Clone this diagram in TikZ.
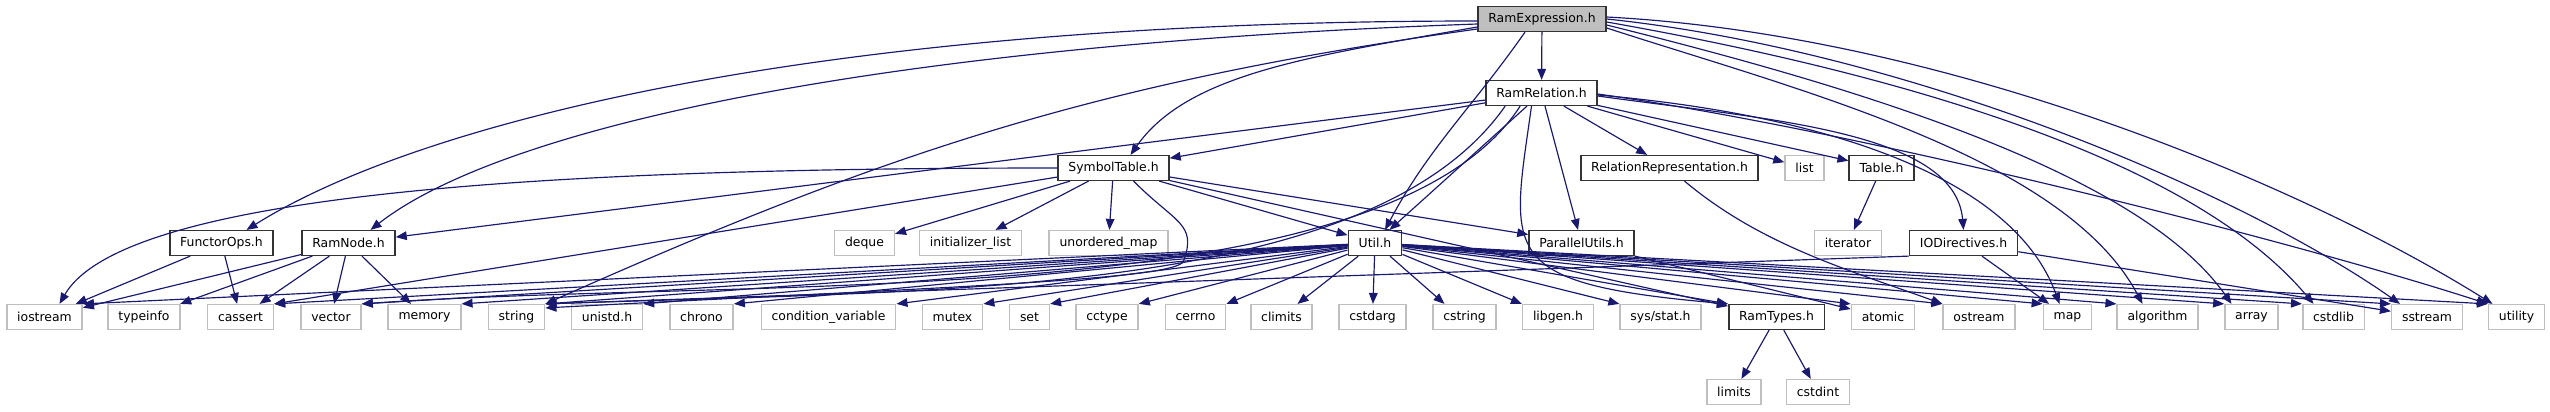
\documentclass[tikz,border=0pt]{standalone}
\usepackage{fontspec}
\setmainfont{DejaVu Sans}
\usepackage{tikz}
\usetikzlibrary{calc,arrows.meta,positioning}

\definecolor{edgeblue}{HTML}{191970}
\definecolor{sysgray}{HTML}{BFBFBF}

\begin{document}
\begin{tikzpicture}[x=0.03cm,y=-0.03cm,
	projbox/.style={rectangle,draw=black!80,fill=white,line width=1.3pt,minimum height=0.74cm,inner xsep=0.31cm,inner ysep=0pt,font=\fontsize{10.6}{12}\selectfont},
	sysbox/.style={projbox,draw=sysgray},
	rootbox/.style={projbox,fill=sysgray},
	dep/.style={draw=edgeblue,line width=1pt,-{Triangle[length=0.33cm,width=0.26cm]}}]
				\useasboundingbox (0,0) rectangle (2550,411);
				% 头文件节点
				\node[rootbox] (expr) at (1542,19) {RamExpression.h};
				\node[projbox] (rel) at (1541.5,93) {RamRelation.h};
				\node[projbox] (sym) at (1113.5,168) {SymbolTable.h};
				\node[projbox] (relrep) at (1669.5,168) {RelationRepresentation.h};
				\node[sysbox] (list) at (1804.5,168) {list};
				\node[projbox] (table) at (1881.5,168) {Table.h};
				\node[projbox] (functor) at (221.5,243) {FunctorOps.h};
				\node[projbox] (ramnode) at (348.5,243) {RamNode.h};
				\node[sysbox] (deque) at (864.5,243) {deque};
				\node[sysbox] (initlist) at (970.5,243) {initializer\_list};
				\node[sysbox] (umap) at (1108.5,243) {unordered\_map};
				\node[projbox] (util) at (1375,243) {Util.h};
				\node[projbox] (par) at (1581.5,243) {ParallelUtils.h};
				\node[sysbox] (iterator) at (1848,243) {iterator};
				\node[projbox] (iodir) at (1963.5,243) {IODirectives.h};
				% 标准库节点
				\node[sysbox] (iostream) at (44.5,317) {iostream};
				\node[sysbox] (typeinfo) at (144,317) {typeinfo};
				\node[sysbox] (cassert) at (240.5,317) {cassert};
				\node[sysbox] (vector) at (331,317) {vector};
				\node[sysbox] (memory) at (424.5,317) {memory};
				\node[sysbox] (string) at (516.5,317) {string};
				\node[sysbox] (unistd) at (607,317) {unistd.h};
				\node[sysbox] (chrono) at (701.5,317) {chrono};
				\node[sysbox] (condvar) at (828.5,317) {condition\_variable};
				\node[sysbox] (mutex) at (952.5,317) {mutex};
				\node[sysbox] (set) at (1029.5,317) {set};
				\node[sysbox] (cctype) at (1107,317) {cctype};
				\node[sysbox] (cerrno) at (1195.5,317) {cerrno};
				\node[sysbox] (climits) at (1281.5,317) {climits};
				\node[sysbox] (cstdarg) at (1372.5,317) {cstdarg};
				\node[sysbox] (cstring) at (1464.5,317) {cstring};
				\node[sysbox] (libgen) at (1558,317) {libgen.h};
				\node[sysbox] (sysstat) at (1660.5,317) {sys/stat.h};
				\node[projbox] (ramtypes) at (1776.5,317) {RamTypes.h};
				\node[sysbox] (atomic) at (1883,317) {atomic};
				\node[sysbox] (ostream) at (1979,317) {ostream};
				\node[sysbox] (map) at (2067.5,317) {map};
				\node[sysbox] (algorithm) at (2157.5,317) {algorithm};
				\node[sysbox] (array) at (2251.5,317) {array};
				\node[sysbox] (cstdlib) at (2333.5,317) {cstdlib};
				\node[sysbox] (sstream) at (2427,317) {sstream};
				\node[sysbox] (utility) at (2516.5,317) {utility};
				\node[sysbox] (limits) at (1734,392) {limits};
				\node[sysbox] (cstdint) at (1818,392) {cstdint};
				\coordinate (hook) at ($(umap.south east)+(15,5)$);
				% RamExpression.h 的依赖
				\draw[dep] (expr) -- (rel);
				\draw[dep] ($(expr.west)+(0,2)$) .. controls +(180:20cm) and +(32:6cm) .. ($(functor.north)+(25,0)$);
				\draw[dep] ($(expr.west)+(0,5)$) .. controls +(182:18cm) and +(38:5cm) .. ($(ramnode.north)+(22,0)$);
				\draw[dep] ($(expr.west)+(0,8)$) .. controls +(190:5cm) and +(55:3cm) .. ($(sym.north)+(17,0)$);
				\draw[dep] ($(expr.west)+(0,10)$) .. controls +(188:11.4cm) and +(24:11.4cm) .. (string.north east);
				\draw[dep] ($(expr.south)+(-17,0)$) .. controls +(235:2.8cm) and +(62:2.8cm) .. ($(util.north)+(10,0)$);
				\draw[dep] ($(expr.east)+(0,-2)$) .. controls +(-3:10cm) and +(148:7cm) .. ($(utility.north)+(-24,0)$);
				\draw[dep] ($(expr.east)+(0,0)$) .. controls +(-6:9cm) and +(145:6cm) .. ($(sstream.north)+(-27,0)$);
				\draw[dep] ($(expr.east)+(0,3)$) .. controls +(-10:8cm) and +(130:6cm) .. ($(cstdlib.north)+(-20,0)$);
				\draw[dep] ($(expr.east)+(0,6)$) .. controls +(-14:7cm) and +(125:5cm) .. ($(array.north)+(-20,0)$);
				\draw[dep] ($(expr.east)+(0,9)$) .. controls +(-18:6cm) and +(118:5cm) .. ($(algorithm.north)+(-15,0)$);
				% RamRelation.h 的依赖
				\draw[dep] (rel) -- (ramnode);
				\draw[dep] (rel) -- (sym);
				\draw[dep] (rel) -- (util);
				\draw[dep] (rel) -- (par);
				\draw[dep] (rel) -- (relrep);
				\draw[dep] (rel) -- (list);
				\draw[dep] (rel) -- (table);
				\draw[dep] ($(rel.east)+(0,3)$) .. controls +(-8:5cm) and +(95:3cm) .. (iodir.north);
				\draw[dep] ($(rel.east)+(0,1)$) .. controls +(-8:8cm) and +(162:6cm) .. (utility.north west);
				\draw[dep] ($(rel.east)+(0,2)$) .. controls +(-5:7cm) and +(110:4cm) .. ($(map.north)+(-8,0)$);
				\draw[dep] ($(rel.south)+(-10,0)$) .. controls +(262:4.5cm) and +(175:7cm) .. (ramtypes.north west);
				\draw[dep] ($(rel.south west)+(20,0)$) .. controls +(235:7cm) and +(2:12cm) .. (string.north east);
				\draw[dep] ($(rel.south west)+(35,0)$) .. controls +(237:7.5cm) and +(4:12cm) .. (vector.north east);
				% SymbolTable.h 的依赖
				\draw[dep] (sym.west) .. controls +(180:14cm) and +(60:4cm) .. ($(iostream.north)+(15,0)$);
				\draw[dep] (sym) -- (cassert.north east);
				\draw[dep] (sym) -- (deque);
				\draw[dep] (sym) -- (initlist);
				\draw[dep] (sym) -- (umap);
				\draw[dep] ($(sym.south)+(20,0)$) .. controls +(-45:1.8cm) and +(70:1.2cm) .. (hook) .. controls +(250:0.6cm) and +(3:12cm) .. ($(string.north east)+(0,4)$);
				\draw[dep] (sym) -- (util);
				\draw[dep] (sym) -- (par);
				\draw[dep] (sym) -- (ramtypes);
				% FunctorOps.h 与 RamNode.h
				\draw[dep] (functor) -- (iostream);
				\draw[dep] (functor) -- (cassert);
				\draw[dep] (ramnode) -- (iostream);
				\draw[dep] (ramnode) -- (typeinfo);
				\draw[dep] (ramnode) -- (cassert);
				\draw[dep] (ramnode) -- (vector);
				\draw[dep] (ramnode) -- (memory);
				% Util.h 的依赖
				\draw[dep] (util) -- (iostream.north east);
				\draw[dep] (util) -- (cassert.north east);
				\draw[dep] (util) -- (vector.north east);
				\draw[dep] (util) -- (memory.north east);
				\draw[dep] (util) -- (string.north east);
				\draw[dep] (util) -- (unistd.north east);
				\draw[dep] (util) -- (chrono.north east);
				\draw[dep] (util) -- (condvar.north east);
				\draw[dep] (util) -- (mutex.north east);
				\draw[dep] (util) -- (set.north east);
				\draw[dep] (util) -- (cctype.north east);
				\draw[dep] (util) -- (cerrno.north east);
				\draw[dep] (util) -- ($(climits.north)+(16,0)$);
				\draw[dep] (util) -- (cstdarg);
				\draw[dep] (util) -- ($(cstring.north)+(-20,0)$);
				\draw[dep] (util) -- (libgen.north west);
				\draw[dep] (util) -- (sysstat.north west);
				\draw[dep] (util) -- (ramtypes.north west);
				\draw[dep] (util) -- (atomic.north west);
				\draw[dep] (util) -- (ostream.north west);
				\draw[dep] (util) -- (map.north west);
				\draw[dep] (util) -- (algorithm.north west);
				\draw[dep] (util) -- (array.north west);
				\draw[dep] (util) -- (cstdlib.north west);
				\draw[dep] (util) -- (sstream.north west);
				\draw[dep] (util) -- (utility.north west);
				% 其余依赖
				\draw[dep] (par) -- (atomic);
				\draw[dep] ($(relrep.south)+(15,0)$) .. controls +(-40:3cm) and +(160:3cm) .. (ostream.north west);
				\draw[dep] (table) -- (iterator);
				\draw[dep] (iodir) -- (map);
				\draw[dep] (iodir) -- (sstream);
				\draw[dep] (iodir.south west) -- (string.north east);
				\draw[dep] (ramtypes) -- (limits);
				\draw[dep] (ramtypes) -- (cstdint);
\end{tikzpicture}
\end{document}
